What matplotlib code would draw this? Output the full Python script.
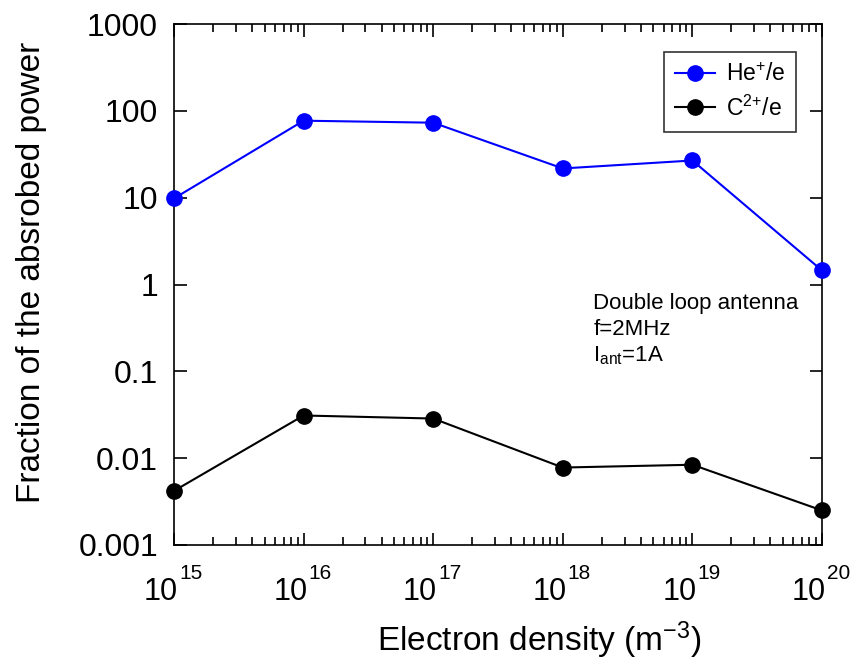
import numpy as np
import matplotlib.pyplot as plt
from matplotlib.ticker import LogLocator, FixedLocator, NullFormatter
from matplotlib.transforms import ScaledTranslation

plt.rcParams["font.family"] = ["Liberation Sans", "DejaVu Sans"]
plt.rcParams["mathtext.fontset"] = "custom"
plt.rcParams["mathtext.rm"] = "Liberation Sans"
plt.rcParams["mathtext.it"] = "Liberation Sans"
plt.rcParams["mathtext.default"] = "regular"

density = [1e15, 1e16, 1e17, 1e18, 1e19, 1e20]
exponents = [15, 16, 17, 18, 19, 20]
he_frac = [9.8, 77, 73, 21.7, 26.8, 1.45]
c_frac = [0.0042, 0.031, 0.0286, 0.0078, 0.0084, 0.0025]
yticks = [1e-3, 1e-2, 1e-1, 1, 10, 100, 1000]
ylabels = ["0.001", "0.01", "0.1", "1", "10", "100", "1000"]

fig = plt.figure(figsize=(8.57, 6.7), dpi=100)
ax = fig.add_axes([174 / 857, 1 - 545 / 670, (822 - 174) / 857, (545 - 24) / 670])

ax.plot(density, he_frac, "-o", color="#0000ff", lw=1.5, ms=11,
        label=r"He$^{{+}}$/e", clip_on=False, zorder=3)
ax.plot(density, c_frac, "-o", color="black", lw=1.5, ms=11,
        label=r"C$^{2{+}}$/e", clip_on=False, zorder=3)

ax.set_xscale("log")
ax.set_yscale("log")
ax.set_xlim(1e15, 1e20)
ax.set_ylim(1e-3, 1e3)

ax.yaxis.set_major_locator(FixedLocator(yticks))
ax.set_yticklabels(ylabels)
ax.yaxis.set_minor_locator(FixedLocator([]))
ax.xaxis.set_major_locator(FixedLocator(density))
ax.xaxis.set_minor_locator(LogLocator(base=10, subs=np.arange(2, 10)))
ax.xaxis.set_minor_formatter(NullFormatter())

ax.tick_params(which="both", direction="in", top=True, right=True,
               width=1.2, labelsize=23, labelbottom=False)
ax.tick_params(axis="y", pad=11.5)
ax.tick_params(which="major", length=9)
ax.tick_params(which="minor", length=6)
for s in ax.spines.values():
    s.set_linewidth(1.2)

# x tick labels: "10" with a raised exponent
tr = ax.get_xaxis_transform()
for d, e in zip(density, exponents):
    ax.text(d, -0.1056, "10", fontsize=22, ha="right", va="baseline",
            transform=tr + ScaledTranslation(4 / 100, 0, fig.dpi_scale_trans))
    ax.text(d, -0.0653, str(e), fontsize=15, ha="left", va="baseline",
            transform=tr + ScaledTranslation(5 / 100, 0, fig.dpi_scale_trans))

ax.set_xlabel(r"Electron density (m$^{-3}$)", fontsize=24)
ax.xaxis.set_label_coords(0.563, -0.143)
ax.set_ylabel("Fraction of the absrobed power", fontsize=24)
ax.yaxis.set_label_coords(-0.196, 0.524)

leg = ax.legend(loc="upper right", bbox_to_anchor=(0.960, 0.946), fontsize=16.5,
                frameon=True, fancybox=False, edgecolor="black",
                handlelength=1.75, handletextpad=0.45, borderpad=0.48,
                labelspacing=0.4, borderaxespad=0)
leg.get_frame().set_linewidth(1.2)

ax.text(0.647, 0.483, "Double loop antenna\nf=2MHz\n" + r"I$_{ant}$=1A",
        transform=ax.transAxes, fontsize=16, va="top", ha="left",
        linespacing=1.28)

fig.savefig("out.png", dpi=100)
